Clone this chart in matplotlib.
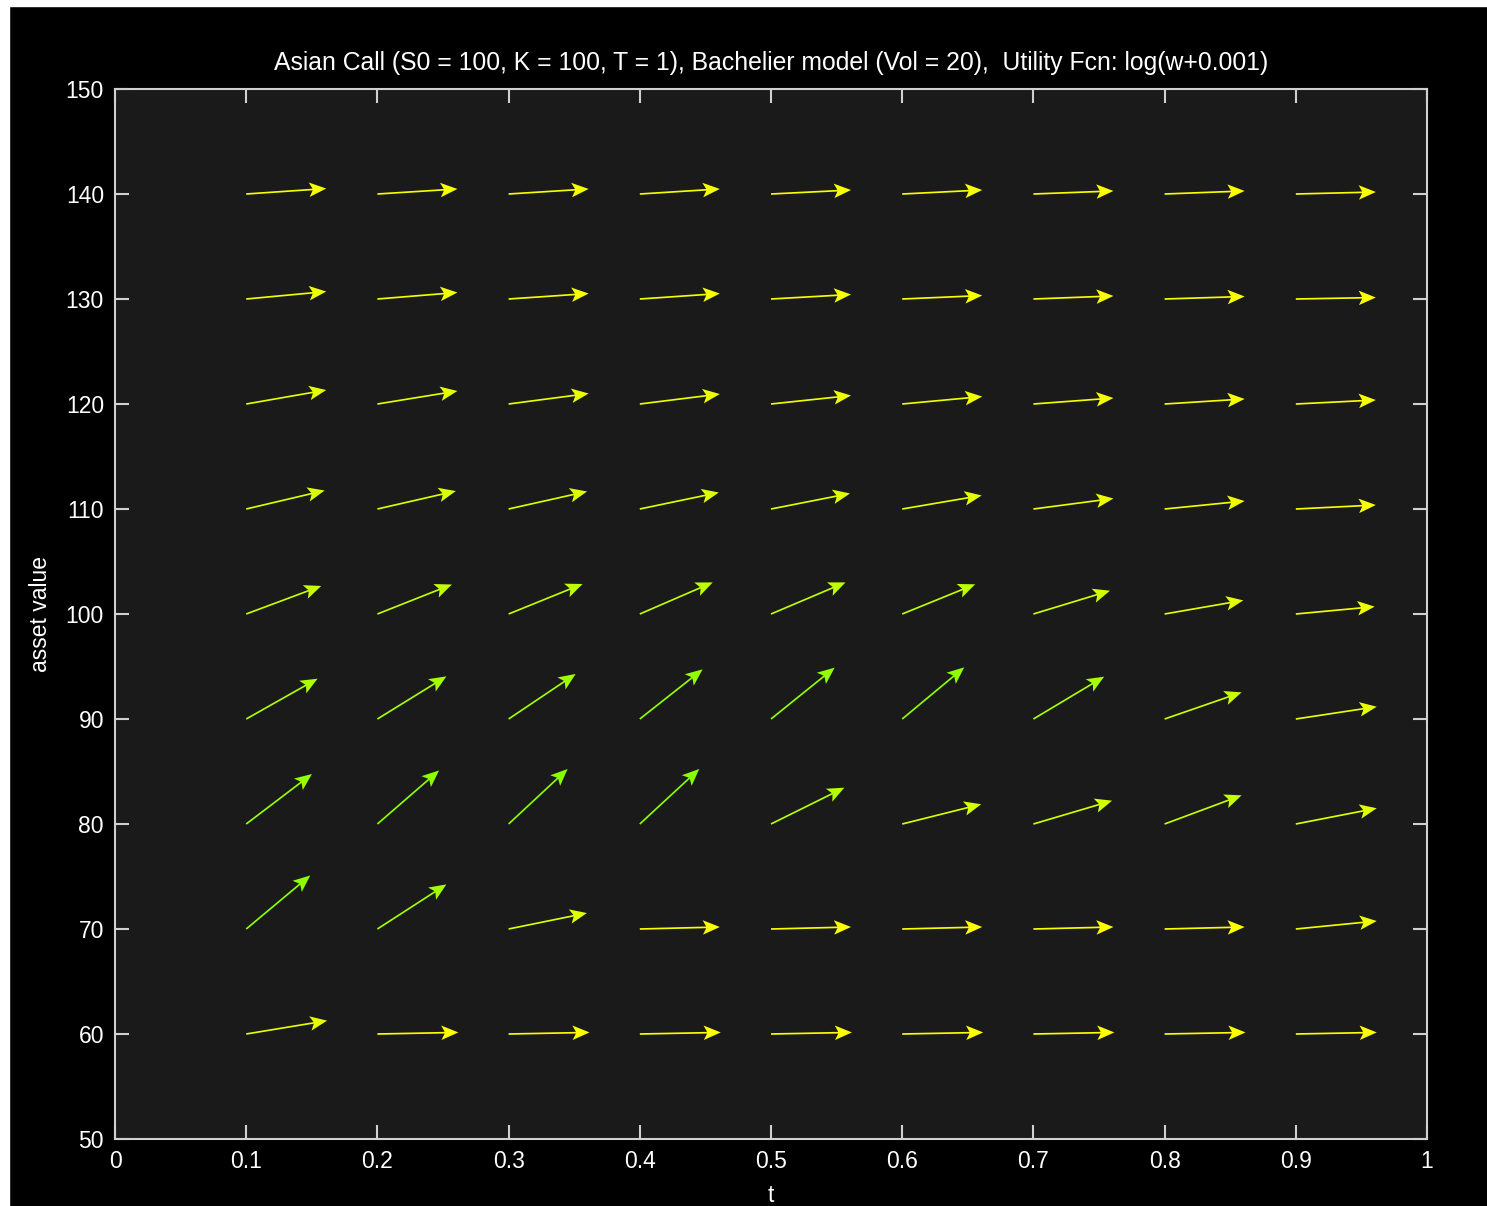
import numpy as np
import matplotlib
matplotlib.use('Agg')
import matplotlib.pyplot as plt
from matplotlib.patches import Rectangle

plt.rcParams['font.family'] = ['Liberation Sans', 'DejaVu Sans']

# grid points of the direction field
times = [0.1, 0.2, 0.3, 0.4, 0.5, 0.6, 0.7, 0.8, 0.9]
assets = [140, 130, 120, 110, 100, 90, 80, 70, 60]

# arrow components per asset row: dt (time step) and dS (asset step)
dt_rows = [
    [0.0610, 0.0610, 0.0610, 0.0610, 0.0610, 0.0610, 0.0610, 0.0610, 0.0610],
    [0.0610, 0.0610, 0.0610, 0.0610, 0.0610, 0.0610, 0.0610, 0.0610, 0.0610],
    [0.0610, 0.0610, 0.0610, 0.0610, 0.0610, 0.0610, 0.0610, 0.0610, 0.0610],
    [0.0598, 0.0598, 0.0598, 0.0602, 0.0602, 0.0606, 0.0610, 0.0610, 0.0610],
    [0.0572, 0.0568, 0.0564, 0.0556, 0.0568, 0.0556, 0.0584, 0.0600, 0.0601],
    [0.0544, 0.0526, 0.0511, 0.0479, 0.0485, 0.0473, 0.0539, 0.0587, 0.0617],
    [0.0501, 0.0470, 0.0450, 0.0453, 0.0559, 0.0602, 0.0600, 0.0587, 0.0617],
    [0.0488, 0.0526, 0.0597, 0.0610, 0.0610, 0.0610, 0.0610, 0.0610, 0.0617],
    [0.0617, 0.0617, 0.0617, 0.0617, 0.0617, 0.0617, 0.0617, 0.0617, 0.0617],
]
dS_rows = [
    [0.52, 0.48, 0.48, 0.48, 0.38, 0.38, 0.29, 0.29, 0.19],
    [0.71, 0.62, 0.52, 0.52, 0.43, 0.33, 0.29, 0.24, 0.14],
    [1.33, 1.24, 1.00, 0.95, 0.81, 0.71, 0.57, 0.48, 0.38],
    [1.76, 1.71, 1.67, 1.57, 1.48, 1.29, 1.00, 0.76, 0.38],
    [2.67, 2.81, 2.86, 3.01, 3.01, 2.83, 2.22, 1.30, 0.70],
    [3.84, 4.06, 4.29, 4.73, 4.89, 4.92, 4.03, 2.54, 1.17],
    [4.76, 5.10, 5.24, 5.24, 3.46, 1.88, 2.22, 2.73, 1.50],
    [5.10, 4.25, 1.52, 0.19, 0.19, 0.19, 0.19, 0.19, 0.76],
    [1.27, 0.15, 0.15, 0.15, 0.15, 0.15, 0.15, 0.15, 0.15],
]

xticks = [0, 0.1, 0.2, 0.3, 0.4, 0.5, 0.6, 0.7, 0.8, 0.9, 1]
xticklabels = ['0', '0.1', '0.2', '0.3', '0.4', '0.5', '0.6', '0.7', '0.8', '0.9', '1']
yticks = [50, 60, 70, 80, 90, 100, 110, 120, 130, 140, 150]

title = 'Asian Call (S0 = 100, K = 100, T = 1), Bachelier model (Vol = 20),  Utility Fcn: log(w+0.001)'

W, H = 1487, 1206
fig = plt.figure(figsize=(W / 100, H / 100), dpi=100, facecolor='black')
# white strips on the left and top edge of the screenshot
fig.add_artist(Rectangle((0, 0), 9 / W, 1, transform=fig.transFigure, color='white', zorder=-5))
fig.add_artist(Rectangle((0, 1 - 6 / H), 1, 6 / H, transform=fig.transFigure, color='white', zorder=-5))

ax = fig.add_axes([115 / W, 67 / H, 1312 / W, 1050 / H])
ax.set_facecolor('#1a1a1a')
ax.set_xlim(0, 1)
ax.set_ylim(50, 150)

T, S = np.meshgrid(times, assets)
U = np.array(dt_rows)
V = np.array(dS_rows)

# colour by the on-screen angle: flat arrows yellow, steep arrows green
p0 = ax.transData.transform((0, 50))
p1 = ax.transData.transform((1, 150))
sx = p1[0] - p0[0]
sy = (p1[1] - p0[1]) / 100.0
ang = np.degrees(np.arctan2(V * sy, U * sx))
red = np.clip(1 - 0.5 * ang / 45.0, 0.4, 1)
colors = [(r, 1.0, 0.0) for r in red.ravel()]

ax.quiver(T.ravel(), S.ravel(), U.ravel(), V.ravel(), color=colors,
          angles='xy', scale_units='xy', scale=1, pivot='tail',
          width=0.0013, headwidth=8.5, headlength=10, headaxislength=8)

ax.set_xticks(xticks)
ax.set_xticklabels(xticklabels)
ax.set_yticks(yticks)
for sp in ax.spines.values():
    sp.set_color('#d0d0d0')
    sp.set_linewidth(1.5)
ax.tick_params(direction='in', length=10, width=1.5, color='#d0d0d0',
               labelcolor='white', labelsize=16.5, top=True, right=True)
ax.tick_params(axis='x', pad=8)
ax.tick_params(axis='y', pad=8)

ax.set_title(title, color='white', fontsize=17.8, pad=14)
ax.set_xlabel('t', color='white', fontsize=16.5, labelpad=8)
ax.set_ylabel('asset value', color='white', fontsize=16.5, labelpad=10)

fig.savefig('out.png', dpi=100, facecolor=fig.get_facecolor())
